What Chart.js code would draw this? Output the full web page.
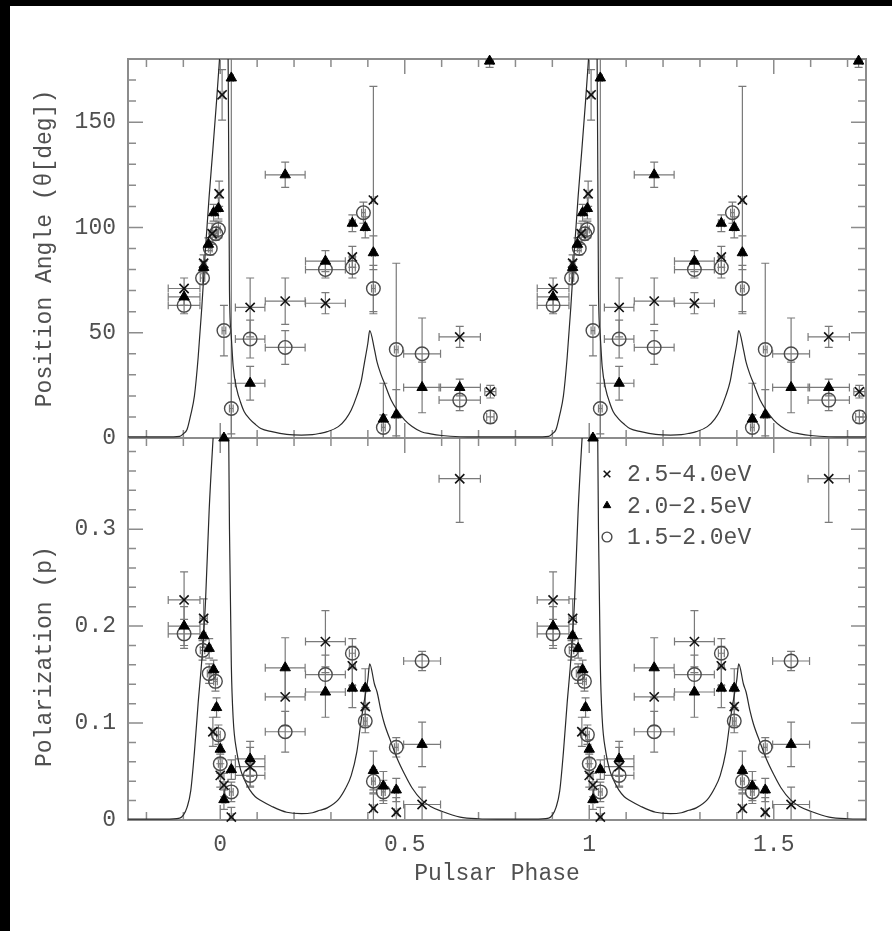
<!DOCTYPE html>
<html><head><meta charset="utf-8">
<script src="https://cdn.jsdelivr.net/npm/chart.js@4.4.1/dist/chart.umd.min.js"></script>
<style>
html,body{margin:0;padding:0;background:#000;width:892px;height:931px;overflow:hidden;}
#frame{position:absolute;left:10px;top:6px;width:882px;height:925px;background:#fff;}
canvas{display:block;}
</style></head><body>
<div id="frame"><canvas id="c" width="882" height="925"></canvas></div>
<script>
// ---------- axis ticks / labels ----------
const phaseTickLabels = [0, 0.5, 1, 1.5];
const angleTickLabels = [0, 50, 100, 150];
const polTickLabels   = [0, 0.1, 0.2, 0.3];
const seriesLabels = ['2.5\u22124.0eV', '2.0\u22122.5eV', '1.5\u22122.0eV'];

// ---------- light curve (one rotation, repeated for the second cycle) ----------
const curvePhase = [-0.25,-0.15,-0.11,-0.10,-0.09,-0.08,-0.07,-0.06,-0.05,-0.04,-0.03,-0.02,-0.01,0.0,0.01,0.02,0.025,0.03,0.035,0.045,0.055,0.065,0.08,0.095,0.11,0.14,0.18,0.22,0.25,0.27,0.29,0.32,0.34,0.355,0.37,0.382,0.39,0.40,0.405,0.418,0.425,0.436,0.445,0.463,0.48,0.5,0.52,0.545,0.57,0.6,0.65,0.7,0.75];
const curveAngle = [0.5,0.5,0.8,2,4,11,20,38,62,90,115,137,160,185,210,215,70,48,34,23,17,12.5,9,6.5,4.5,3,1.7,1.4,1.6,2.2,3,5.4,9,13.3,20,27,35,45,51,42,36,30,26,18,13,8.5,5.5,3,2,1.2,0.6,0.5,0.5];
const curvePol = [0.001,0.001,0.002,0.005,0.013,0.03,0.07,0.12,0.165,0.225,0.32,0.39,0.45,0.5,0.52,0.5,0.3,0.16,0.105,0.07,0.052,0.042,0.031,0.024,0.02,0.014,0.008,0.0065,0.0075,0.01,0.0125,0.021,0.033,0.046,0.07,0.103,0.122,0.145,0.161,0.14,0.132,0.112,0.099,0.08,0.063,0.047,0.033,0.021,0.014,0.009,0.003,0.0013,0.001];

// ---------- Position angle (deg) ----------
// 2.5-4.0 eV (x)
const angPhaseX = [-0.098,-0.045,-0.022,-0.003,0.005,0.081,0.176,0.285,0.358,0.415,0.649,0.732];
const angX      = [71,83,97,116,163,62,65,64,86,113,48,22];
const angXePhX  = [0.043,0.006,0.005,0.005,0.005,0.04,0.054,0.054,0.008,0.005,0.056,0.015];
const angXeValX = [5,4,5,6,12,14,11,5,5,54,5,3];
// 2.0-2.5 eV (triangle)
const angPhaseT = [-0.098,-0.045,-0.032,-0.018,-0.005,0.01,0.03,0.081,0.176,0.285,0.358,0.393,0.415,0.442,0.477,0.547,0.649,0.73];
const angT      = [67,81,92,107,109,0,171,26,125,84,102,100,88,9,11,24,24,179];
const angTePhT  = [0.043,0.006,0.005,0.005,0.005,0.005,0.005,0.04,0.054,0.054,0.008,0.005,0.005,0.005,0.005,0.05,0.056,0.01];
const angTeValT = [4,3,3,4,5,0,180,8,6,5,4,5,8,17,12,12,4,3];
// 1.5-2.0 eV (circle)
const angPhaseC = [-0.098,-0.048,-0.027,-0.012,-0.005,0.01,0.03,0.081,0.176,0.285,0.358,0.388,0.415,0.442,0.477,0.547,0.649,0.732];
const angC      = [63,76,90,97,99,51,14,47,43,80,81,107,71,5,42,40,18,10];
const angCePhC  = [0.043,0.006,0.005,0.005,0.005,0.005,0.005,0.04,0.054,0.054,0.008,0.005,0.005,0.005,0.005,0.05,0.056,0.01];
const angCeValC = [4,3,3,3,4,12,12,9,8,4,5,5,11,6,41,17,5,3];

// ---------- Polarization (p) ----------
const polPhaseX = [-0.098,-0.045,-0.02,0.0,0.01,0.03,0.081,0.176,0.285,0.358,0.393,0.415,0.477,0.547,0.649];
const polX      = [0.227,0.208,0.091,0.046,0.036,0.003,0.055,0.127,0.184,0.159,0.117,0.012,0.008,0.016,0.352];
const polXePhX  = [0.043,0.01,0.005,0.005,0.005,0.005,0.04,0.054,0.054,0.008,0.005,0.005,0.005,0.05,0.056];
const polXeValX = [0.029,0.02,0.015,0.012,0.012,0.01,0.02,0.03,0.032,0.02,0.02,0.015,0.015,0.018,0.045];

const polPhaseT = [-0.098,-0.045,-0.03,-0.018,-0.01,0.0,0.01,0.03,0.081,0.176,0.285,0.358,0.393,0.415,0.442,0.477,0.547];
const polT      = [0.2,0.19,0.177,0.155,0.116,0.073,0.021,0.052,0.063,0.157,0.132,0.136,0.136,0.051,0.035,0.031,0.078];
const polTePhT  = [0.043,0.006,0.005,0.005,0.005,0.005,0.005,0.005,0.04,0.054,0.054,0.008,0.005,0.005,0.005,0.005,0.05];
const polTeValT = [0.02,0.012,0.01,0.01,0.01,0.01,0.01,0.01,0.018,0.031,0.026,0.02,0.02,0.02,0.015,0.012,0.023];

const polPhaseC = [-0.098,-0.048,-0.03,-0.013,-0.005,0.0,0.03,0.081,0.176,0.285,0.358,0.393,0.415,0.442,0.477,0.547];
const polC      = [0.192,0.175,0.151,0.143,0.088,0.058,0.029,0.046,0.091,0.150,0.172,0.102,0.040,0.029,0.075,0.164];
const polCePhC  = [0.043,0.006,0.005,0.005,0.005,0.005,0.005,0.04,0.054,0.054,0.008,0.005,0.005,0.005,0.005,0.05];
const polCeValC = [0.015,0.01,0.01,0.01,0.01,0.01,0.01,0.012,0.021,0.02,0.015,0.012,0.012,0.012,0.01,0.01];

// ---------- helpers: the figure shows two rotations ----------
const cycles = [0, 1];
function twoCycles(ph, val, xe, ye) {
  const out = [];
  cycles.forEach(c => ph.forEach((p, i) => out.push({x: p + c, y: val[i], xe: xe[i], ye: ye[i]})));
  return out;
}
function curveCycles(ph, val) {
  const out = [];
  cycles.forEach(c => ph.forEach((p, i) => {
    const x = p + c;
    if (out.length && Math.abs(out[out.length - 1].x - x) < 1e-9) return;
    out.push({x: x, y: val[i]});
  }));
  return out;
}

const FONT = '"Liberation Mono", monospace';
const TEXT = '#505050';
const FRAME = '#8c8c8c';
const ERR = '#7a7a7a';

function crossStyle(axis, label) {
  return {type:'scatter', label, yAxisID: axis, pointStyle:'crossRot', pointRadius:6.5, pointBorderWidth:1.6,
          borderColor:'#111', backgroundColor:'#111', errorBars:true, clip:false};
}
function triStyle(axis, label) {
  return {type:'scatter', label, yAxisID: axis, pointStyle:'triangle', pointRadius:6, pointBorderWidth:1,
          borderColor:'#000', backgroundColor:'#000', errorBars:true, clip:false};
}
function circStyle(axis, label) {
  return {type:'scatter', label, yAxisID: axis, pointStyle:'circle', pointRadius:6.8, pointBorderWidth:1.4,
          borderColor:'#4a4a4a', backgroundColor:'rgba(0,0,0,0)', errorBars:true, clip:false};
}

const datasets = [
  Object.assign(crossStyle('yP', seriesLabels[0]), {data: twoCycles(polPhaseX, polX, polXePhX, polXeValX), legend:true}),
  Object.assign(triStyle('yP', seriesLabels[1]),   {data: twoCycles(polPhaseT, polT, polTePhT, polTeValT), legend:true}),
  Object.assign(circStyle('yP', seriesLabels[2]),  {data: twoCycles(polPhaseC, polC, polCePhC, polCeValC), legend:true}),
  Object.assign(crossStyle('yA', seriesLabels[0]), {data: twoCycles(angPhaseX, angX, angXePhX, angXeValX)}),
  Object.assign(triStyle('yA', seriesLabels[1]),   {data: twoCycles(angPhaseT, angT, angTePhT, angTeValT)}),
  Object.assign(circStyle('yA', seriesLabels[2]),  {data: twoCycles(angPhaseC, angC, angCePhC, angCeValC)}),
  {type:'line', label:'light curve (PA panel)', yAxisID:'yA', data: curveCycles(curvePhase, curveAngle),
   borderColor:'#2a2a2a', borderWidth:1.2, pointRadius:0, cubicInterpolationMode:'monotone', fill:false, panelClip:true},
  {type:'line', label:'light curve (p panel)', yAxisID:'yP', data: curveCycles(curvePhase, curvePol),
   borderColor:'#2a2a2a', borderWidth:1.2, pointRadius:0, cubicInterpolationMode:'monotone', fill:false, panelClip:true}
];

// ---------- plugins ----------
const panelClip = {
  id:'panelClip',
  beforeDatasetDraw(chart, args) {
    const ds = chart.data.datasets[args.index];
    if (!ds.panelClip) return;
    const y = chart.scales[ds.yAxisID], a = chart.chartArea, ctx = chart.ctx;
    ctx.save(); ctx.beginPath(); ctx.rect(a.left, y.top, a.right - a.left, y.bottom - y.top); ctx.clip();
  },
  afterDatasetDraw(chart, args) {
    const ds = chart.data.datasets[args.index];
    if (ds.panelClip) chart.ctx.restore();
  }
};

const frameTicks = {
  id:'frameTicks',
  beforeDatasetsDraw(chart) {
    const ctx = chart.ctx, a = chart.chartArea, x = chart.scales.x, yA = chart.scales.yA, yP = chart.scales.yP;
    const mid = yA.bottom;
    ctx.save();
    ctx.strokeStyle = FRAME; ctx.lineWidth = 2;
    ctx.strokeRect(a.left, a.top, a.right - a.left, a.bottom - a.top);
    ctx.beginPath(); ctx.moveTo(a.left, mid); ctx.lineTo(a.right, mid); ctx.stroke();
    ctx.lineWidth = 1.5;
    ctx.beginPath();
    const MAJ = 15, MIN = 8;
    // phase ticks every 0.1, major every 0.5
    for (let k = -2; k <= 17; k++) {
      const px = x.getPixelForValue(k / 10), L = (k % 5 === 0) ? MAJ : MIN;
      ctx.moveTo(px, a.top); ctx.lineTo(px, a.top + L);
      ctx.moveTo(px, mid - L); ctx.lineTo(px, mid + L);
      ctx.moveTo(px, a.bottom); ctx.lineTo(px, a.bottom - L);
    }
    // angle ticks every 10 deg, major every 50
    for (let k = 1; k < 18; k++) {
      const py = yA.getPixelForValue(k * 10), L = (k % 5 === 0) ? MAJ : MIN;
      ctx.moveTo(a.left, py); ctx.lineTo(a.left + L, py);
      ctx.moveTo(a.right, py); ctx.lineTo(a.right - L, py);
    }
    // polarization ticks every 0.02, major every 0.1
    for (let k = 1; k * 0.02 < yP.max; k++) {
      const py = yP.getPixelForValue(k * 0.02), L = (k % 5 === 0) ? MAJ : MIN;
      ctx.moveTo(a.left, py); ctx.lineTo(a.left + L, py);
      ctx.moveTo(a.right, py); ctx.lineTo(a.right - L, py);
    }
    ctx.stroke();
    ctx.restore();
  }
};

const errorBars = {
  id:'errorBars',
  beforeDatasetsDraw(chart) {
    const ctx = chart.ctx, a = chart.chartArea, x = chart.scales.x;
    const cap = 4;
    chart.data.datasets.forEach((ds) => {
      if (!ds.errorBars) return;
      const y = chart.scales[ds.yAxisID];
      ctx.save();
      ctx.beginPath(); ctx.rect(a.left, y.top, a.right - a.left, y.bottom - y.top); ctx.clip();
      ctx.strokeStyle = ERR; ctx.lineWidth = 1.2;
      ctx.beginPath();
      ds.data.forEach(p => {
        const px = x.getPixelForValue(p.x), py = y.getPixelForValue(p.y);
        const x0 = x.getPixelForValue(p.x - p.xe), x1 = x.getPixelForValue(p.x + p.xe);
        const y0 = y.getPixelForValue(p.y - p.ye), y1 = y.getPixelForValue(p.y + p.ye);
        if (x1 - x0 > 3) {
          ctx.moveTo(x0, py); ctx.lineTo(x1, py);
          ctx.moveTo(x0, py - cap); ctx.lineTo(x0, py + cap);
          ctx.moveTo(x1, py - cap); ctx.lineTo(x1, py + cap);
        }
        if (Math.abs(y0 - y1) > 3) {
          ctx.moveTo(px, y0); ctx.lineTo(px, y1);
          ctx.moveTo(px - cap, y0); ctx.lineTo(px + cap, y0);
          ctx.moveTo(px - cap, y1); ctx.lineTo(px + cap, y1);
        }
      });
      ctx.stroke();
      ctx.restore();
    });
  }
};

const insideLegend = {
  id:'insideLegend',
  afterDatasetsDraw(chart) {
    const ctx = chart.ctx, a = chart.chartArea, yP = chart.scales.yP;
    const items = chart.data.datasets.filter(d => d.legend);
    ctx.save();
    ctx.font = '23px ' + FONT; ctx.textBaseline = 'middle'; ctx.textAlign = 'left';
    items.forEach((d, i) => {
      const mx = a.left + 479, my = yP.top + 36 + i * 31.5;
      ctx.fillStyle = d.backgroundColor; ctx.strokeStyle = d.borderColor;
      ctx.lineWidth = d.pointBorderWidth;
      Chart.helpers.drawPoint(ctx, {pointStyle: d.pointStyle, radius: d.pointRadius * 0.72, borderWidth: d.pointBorderWidth},
        mx, my);
      ctx.fillStyle = TEXT;
      ctx.fillText(d.label, mx + 20, my + 1);
    });
    ctx.restore();
  }
};

Chart.defaults.font.family = FONT;
Chart.defaults.color = TEXT;

const tickFont = {family: FONT, size: 23};

new Chart(document.getElementById('c'), {
  data: {datasets},
  options: {
    responsive:false, animation:false, devicePixelRatio:1,
    layout:{padding:{top:53, right:26, left:0, bottom:0}},
    plugins:{legend:{display:false}, tooltip:{enabled:false}},
    scales:{
      x:{type:'linear', position:'bottom', min:-0.25, max:1.75,
         grid:{display:false, drawTicks:false}, border:{display:false},
         ticks:{padding:11, font:tickFont, color:TEXT, callback:v => String(v)},
         title:{display:true, text:'Pulsar Phase', font:{family:FONT, size:23}, color:TEXT, padding:{top:0, bottom:43}},
         afterBuildTicks: s => { s.ticks = phaseTickLabels.map(v => ({value:v})); },
         afterFit: s => { s.height = 111; }},
      // listed first -> placed lowest in the left stack
      yP:{type:'linear', position:'left', stack:'panels', stackWeight:382, min:0, max:0.394,
          grid:{display:false, drawTicks:false}, border:{display:false},
          ticks:{padding:12, font:tickFont, color:TEXT, callback:v => String(v)},
          title:{display:true, text:'Polarization (p)    ', font:{family:FONT, size:23}, color:TEXT, padding:{top:21, bottom:0}},
          afterBuildTicks: s => { s.ticks = polTickLabels.map(v => ({value:v})); },
          afterFit: s => { s.width = 118; }},
      yA:{type:'linear', position:'left', stack:'panels', stackWeight:379, min:0, max:180,
          grid:{display:false, drawTicks:false}, border:{display:false},
          ticks:{padding:12, font:tickFont, color:TEXT, callback:v => String(v)},
          title:{display:true, text:'Position Angle (\u03b8[deg])', font:{family:FONT, size:23}, color:TEXT, padding:{top:21, bottom:0}},
          afterBuildTicks: s => { s.ticks = angleTickLabels.map(v => ({value:v})); },
          afterFit: s => { s.width = 118; }}
    }
  },
  plugins:[frameTicks, errorBars, panelClip, insideLegend]
});
</script>
</body></html>
